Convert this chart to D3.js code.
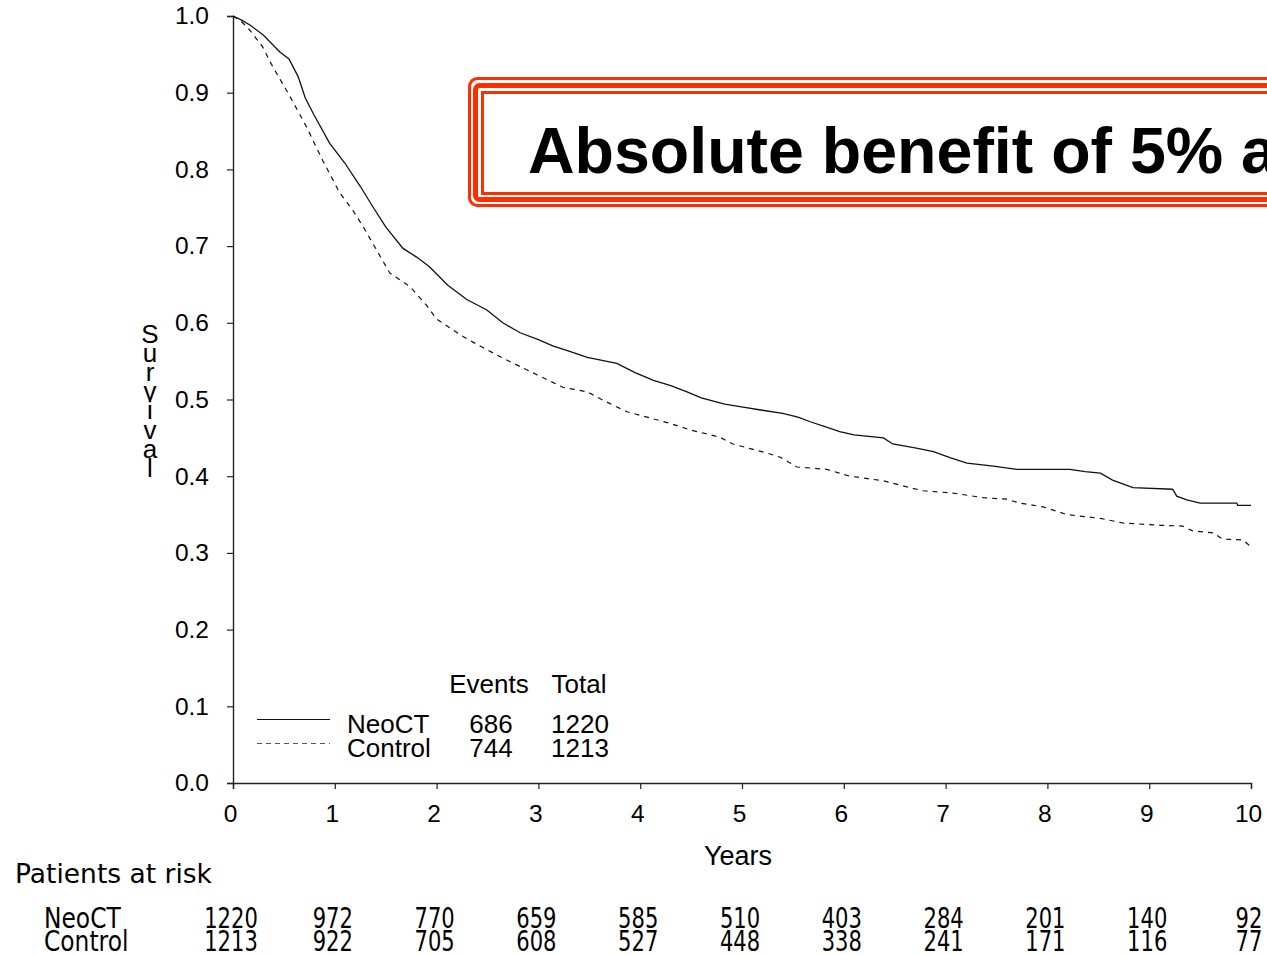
<!DOCTYPE html>
<html>
<head>
<meta charset="utf-8">
<script src="https://cdn.jsdelivr.net/npm/d3@7"></script>
<style>
  html, body { margin: 0; padding: 0; background: #fff; overflow: hidden; }
  svg { display: block; }
</style>
</head>
<body>
<svg id="chart" width="1267" height="955"></svg>
<script>
// Kaplan–Meier survival estimates (years, survival proportion)
const neoctYears = [0, 0.08, 0.17, 0.3, 0.46, 0.55, 0.64, 0.71, 0.8, 0.95, 1.1, 1.25, 1.375, 1.5, 1.67, 1.8, 1.93, 2.11, 2.3, 2.49, 2.65, 2.82, 3.0, 3.14, 3.3, 3.48, 3.77, 3.95, 4.13, 4.3, 4.46, 4.6, 4.83, 5.01, 5.2, 5.4, 5.55, 5.67, 5.83, 5.96, 6.1, 6.39, 6.48, 6.7, 6.88, 7.05, 7.21, 7.47, 7.7, 8.22, 8.37, 8.52, 8.64, 8.84, 9.23, 9.27, 9.37, 9.5, 9.86, 9.87, 10.0];
const neoctSurv  = [1.0, 0.995, 0.988, 0.975, 0.953, 0.944, 0.921, 0.893, 0.870, 0.834, 0.808, 0.778, 0.751, 0.725, 0.697, 0.686, 0.673, 0.649, 0.630, 0.617, 0.600, 0.587, 0.578, 0.570, 0.563, 0.555, 0.547, 0.535, 0.525, 0.518, 0.510, 0.502, 0.494, 0.490, 0.486, 0.482, 0.477, 0.471, 0.464, 0.458, 0.454, 0.450, 0.442, 0.437, 0.432, 0.424, 0.417, 0.413, 0.409, 0.409, 0.406, 0.404, 0.395, 0.385, 0.383, 0.374, 0.369, 0.365, 0.365, 0.362, 0.362];

const controlYears = [0, 0.08, 0.15, 0.29, 0.39, 0.56, 0.72, 0.88, 1.05, 1.17, 1.28, 1.41, 1.54, 1.74, 1.9, 2.0, 2.26, 2.45, 2.65, 2.99, 3.24, 3.48, 3.65, 3.87, 4.29, 4.5, 4.78, 4.91, 5.25, 5.37, 5.54, 5.83, 6.06, 6.39, 6.62, 6.78, 7.07, 7.37, 7.6, 7.73, 7.96, 8.19, 8.52, 8.74, 9.11, 9.33, 9.42, 9.63, 9.72, 9.92, 10.0];
const controlSurv  = [1.0, 0.993, 0.984, 0.960, 0.934, 0.895, 0.856, 0.812, 0.769, 0.748, 0.725, 0.695, 0.665, 0.647, 0.623, 0.605, 0.582, 0.568, 0.554, 0.532, 0.516, 0.510, 0.498, 0.484, 0.469, 0.460, 0.451, 0.442, 0.430, 0.425, 0.412, 0.409, 0.400, 0.394, 0.386, 0.381, 0.378, 0.372, 0.370, 0.365, 0.360, 0.350, 0.345, 0.339, 0.336, 0.335, 0.329, 0.326, 0.318, 0.317, 0.308];

// Axis ticks
const yearTicks = [0, 1, 2, 3, 4, 5, 6, 7, 8, 9, 10];
const survTicks = [0.0, 0.1, 0.2, 0.3, 0.4, 0.5, 0.6, 0.7, 0.8, 0.9, 1.0];

// Legend table
const groups = ["NeoCT", "Control"];
const events = [686, 744];
const totals = [1220, 1213];

// Numbers at risk at each yearly time point
const atRiskNeoct   = [1220, 972, 770, 659, 585, 510, 403, 284, 201, 140, 92];
const atRiskControl = [1213, 922, 705, 608, 527, 448, 338, 241, 171, 116, 77];

const titleText = "Absolute benefit of 5% at 10 years";

const svg = d3.select("#chart");
const x = d3.scaleLinear().domain([0, 10]).range([233, 1251]);
const y = d3.scaleLinear().domain([0, 1]).range([783, 16]);

const axisFont = "'Liberation Sans', Arial, sans-serif";

// Y axis
const yAxis = svg.append("g")
  .attr("transform", `translate(${x(0)},0)`)
  .call(d3.axisLeft(y).tickValues(survTicks).tickFormat(d3.format(".1f")).tickSize(6).tickPadding(18));
yAxis.select(".domain").attr("stroke", "#222").attr("stroke-width", 1.4);
yAxis.selectAll(".tick line").attr("stroke", "#222").attr("stroke-width", 1.2);
yAxis.selectAll(".tick text").attr("font-family", axisFont).attr("font-size", 24.5).attr("fill", "#000");

// X axis
const xAxis = svg.append("g")
  .attr("transform", `translate(0,${y(0)})`)
  .call(d3.axisBottom(x).tickValues(yearTicks).tickFormat(d3.format("d")).tickSize(6).tickPadding(16));
xAxis.select(".domain").attr("stroke", "#222").attr("stroke-width", 1.4);
xAxis.selectAll(".tick line").attr("stroke", "#222").attr("stroke-width", 1.2);
xAxis.selectAll(".tick text").attr("font-family", axisFont).attr("font-size", 24.5).attr("fill", "#000")
  .attr("dx", -3);

// Axis titles
svg.append("text")
  .attr("x", 738).attr("y", 865)
  .attr("text-anchor", "middle")
  .attr("font-family", axisFont).attr("font-size", 27)
  .text("Years");

// Vertical stacked y label
const yLabel = "Survival".split("");
svg.append("g").selectAll("text").data(yLabel).join("text")
  .attr("x", 150)
  .attr("y", (d, i) => 343 + i * 19.1)
  .attr("text-anchor", "middle")
  .attr("font-family", axisFont).attr("font-size", 26)
  .text(d => d);

// Survival curves
const line = d3.line().x(d => x(d[0])).y(d => y(d[1])).curve(d3.curveLinear);
const neoctData = d3.zip(neoctYears, neoctSurv);
const controlData = d3.zip(controlYears, controlSurv);

svg.append("path").datum(controlData)
  .attr("d", line)
  .attr("fill", "none").attr("stroke", "#111").attr("stroke-width", 1.2)
  .attr("stroke-dasharray", "5,5");

svg.append("path").datum(neoctData)
  .attr("d", line)
  .attr("fill", "none").attr("stroke", "#111").attr("stroke-width", 1.3);

// Legend
const legend = svg.append("g");
legend.append("text").attr("x", 489).attr("y", 693).attr("text-anchor", "middle")
  .attr("font-family", axisFont).attr("font-size", 26).text("Events");
legend.append("text").attr("x", 579).attr("y", 693).attr("text-anchor", "middle")
  .attr("font-family", axisFont).attr("font-size", 26).text("Total");

const legendRows = [0, 1];
const rowY = [733, 757];
legend.selectAll("line.key").data(legendRows).join("line")
  .attr("class", "key")
  .attr("x1", 257).attr("x2", 330)
  .attr("y1", i => rowY[i] - 13.5).attr("y2", i => rowY[i] - 13.5)
  .attr("stroke", i => i === 0 ? "#111" : "#555")
  .attr("stroke-width", 1.2)
  .attr("stroke-dasharray", i => i === 0 ? null : "5,4");
legend.selectAll("text.grp").data(legendRows).join("text")
  .attr("class", "grp")
  .attr("x", 347).attr("y", i => rowY[i])
  .attr("font-family", axisFont).attr("font-size", 26)
  .text(i => groups[i]);
legend.selectAll("text.ev").data(legendRows).join("text")
  .attr("class", "ev")
  .attr("x", 491).attr("y", i => rowY[i]).attr("text-anchor", "middle")
  .attr("font-family", axisFont).attr("font-size", 26)
  .text(i => events[i]);
legend.selectAll("text.tot").data(legendRows).join("text")
  .attr("class", "tot")
  .attr("x", 580).attr("y", i => rowY[i]).attr("text-anchor", "middle")
  .attr("font-family", axisFont).attr("font-size", 26)
  .text(i => totals[i]);

// Patients at risk table
const riskFont = "'DejaVu Sans', Verdana, sans-serif";
svg.append("text")
  .attr("x", 15).attr("y", 883)
  .attr("font-family", riskFont).attr("font-size", 26.5)
  .text("Patients at risk");

const riskRows = [atRiskNeoct, atRiskControl];
const riskY = [928, 951];
riskRows.forEach((row, r) => {
  svg.append("text")
    .attr("transform", `translate(44,${riskY[r]}) scale(0.82,1)`)
    .attr("font-family", riskFont).attr("font-size", 28.5)
    .text(groups[r]);
  svg.append("g").selectAll("text").data(yearTicks).join("text")
    .attr("transform", t => `translate(${x(t) - 2},${riskY[r]}) scale(0.74,1)`)
    .attr("text-anchor", "middle")
    .attr("font-family", riskFont).attr("font-size", 28.5)
    .text((t, i) => row[i]);
});

// Highlight banner with triple red border
const banner = svg.append("g");
const red = "#ff2e00";
banner.append("rect").attr("x", 469.5).attr("y", 78.5).attr("width", 900).attr("height", 127)
  .attr("rx", 8).attr("fill", "#fff").attr("stroke", red).attr("stroke-width", 3);
banner.append("rect").attr("x", 475.5).attr("y", 85.5).attr("width", 900).attr("height", 114)
  .attr("rx", 4).attr("fill", "none").attr("stroke", red).attr("stroke-width", 5);
banner.append("rect").attr("x", 482.5).attr("y", 92.5).attr("width", 900).attr("height", 101)
  .attr("fill", "none").attr("stroke", red).attr("stroke-width", 3);
banner.append("text")
  .attr("x", 528).attr("y", 173)
  .attr("font-family", axisFont).attr("font-weight", "bold").attr("font-size", 64.5)
  .attr("fill", "#000")
  .text(titleText);
</script>
</body>
</html>
